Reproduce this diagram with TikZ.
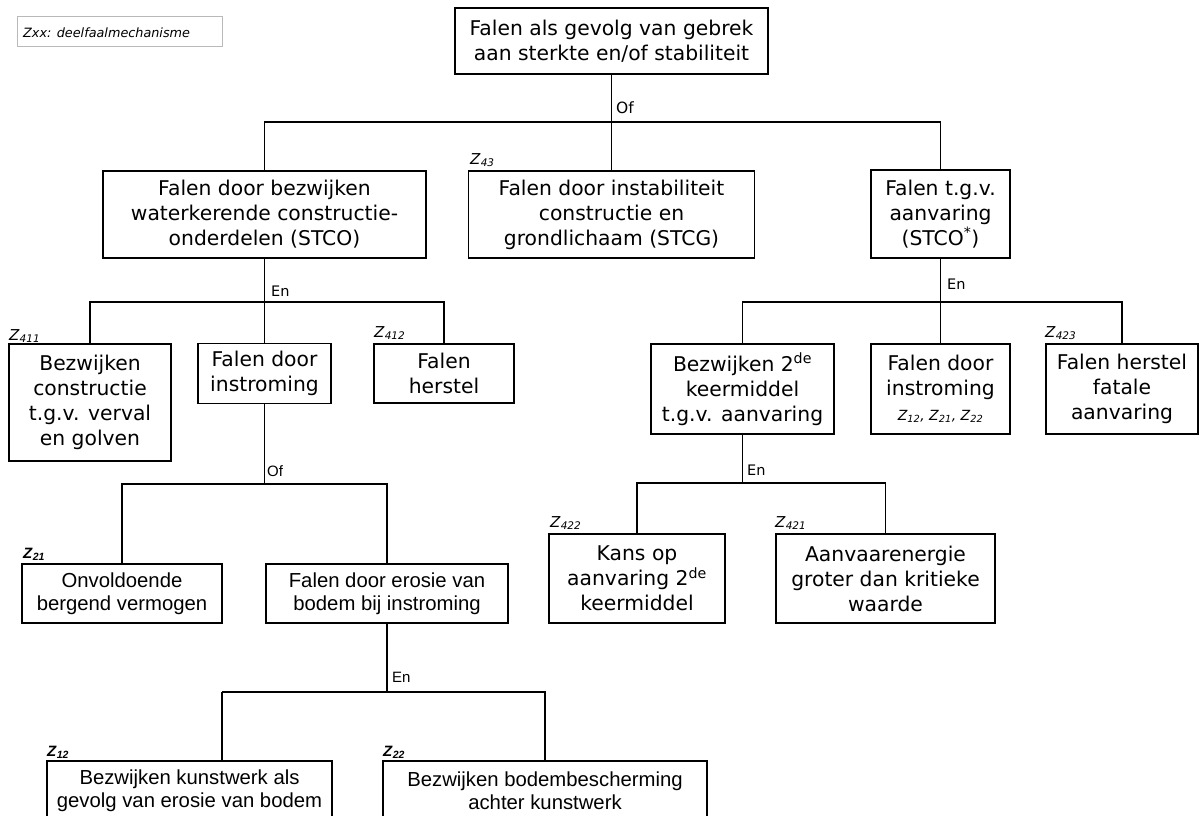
\documentclass[tikz,border=0pt]{standalone}
\usepackage{fontspec}
\setmainfont{DejaVu Sans}
\newfontfamily\arialf{Liberation Sans}
\newcommand{\zlab}[1]{\textit{Z}\textsubscript{\textit{#1}}}
\tikzset{
  box/.style={draw, line width=1.9pt, align=center, inner sep=0pt, font=\fontsize{20.3}{25}\selectfont},
  abox/.style={draw, line width=1.9pt, align=center, inner sep=0pt, font=\arialf\fontsize{20.3}{22.5}\selectfont},
  conn/.style={line width=1.9pt},
  gate/.style={anchor=base west, inner sep=0pt, font=\fontsize{14.5}{16}\selectfont},
  agate/.style={anchor=base west, inner sep=0pt, font=\arialf\fontsize{15}{16}\selectfont},
  zl/.style={anchor=base west, inner sep=0pt, font=\fontsize{15}{17}\selectfont},
  azl/.style={anchor=base west, inner sep=0pt, font=\arialf\bfseries\fontsize{15}{17}\selectfont},
}
\begin{document}
\begin{tikzpicture}[x=1pt,y=-1pt]
\useasboundingbox (0,0) rectangle (1199,816);
\clip (0,0) rectangle (1199,816);
\fill[white] (0,0) rectangle (1199,816);

% legend
\node[draw=gray!55, line width=1pt, minimum width=205pt, minimum height=30pt, inner sep=0pt] (legend) at (119.5,32) {};
\node[anchor=west, inner sep=0pt, font=\itshape\fontsize{12.8}{14}\selectfont] (legtxt) at (23,32.5) {Zxx: deelfaalmechanisme};

% boxes level 0/1
\node[box, minimum width=313pt, minimum height=66pt] (top) at (611.5,41) {Falen als gevolg van gebrek\\aan sterkte en/of stabiliteit};
\node[box, minimum width=323pt, minimum height=87pt] (L1) at (264.5,214.5) {Falen door bezwijken\\waterkerende constructie-\\onderdelen (STCO)};
\node[box, minimum width=286pt, minimum height=87pt] (M1) at (611.5,214.5) {Falen door instabiliteit\\constructie en\\grondlichaam (STCG)};
\node[box, minimum width=139pt, minimum height=88pt] (R1) at (940.5,214) {Falen t.g.v.\\aanvaring\\(STCO\textsuperscript{*})};

% level 2 left
\node[box, minimum width=162pt, minimum height=117pt] (Z411) at (90,402.5) {Bezwijken\\constructie\\t.g.v. verval\\en golven};
\node[box, minimum width=133pt, minimum height=60pt] (FDI) at (264.5,373.5) {Falen door\\instroming};
\node[box, minimum width=140pt, minimum height=59pt] (FH) at (444,373.5) {Falen\\herstel};

% level 2 right
\node[box, minimum width=183pt, minimum height=90pt] (B2) at (742.5,389) {Bezwijken 2\textsuperscript{de}\\keermiddel\\t.g.v. aanvaring};
\node[box, minimum width=139pt, minimum height=90pt] (FDI2) at (940.5,389) {Falen door\\instroming\\{\itshape\fontsize{14}{16}\selectfont Z\textsubscript{12}, Z\textsubscript{21}, Z\textsubscript{22}}};
\node[box, minimum width=152pt, minimum height=90pt] (FHF) at (1122,389) {Falen herstel\\fatale\\aanvaring};

% level 3 right
\node[box, minimum width=176pt, minimum height=89pt] (K422) at (637,578.5) {Kans op\\aanvaring 2\textsuperscript{de}\\keermiddel};
\node[box, minimum width=219pt, minimum height=89pt] (A421) at (885.5,578.5) {Aanvaarenergie\\groter dan kritieke\\waarde};

% level 3 left
\node[abox, minimum width=200pt, minimum height=59pt] (Onv) at (122,593.5) {Onvoldoende\\bergend vermogen};
\node[abox, minimum width=242pt, minimum height=59pt] (Ero) at (387,593.5) {Falen door erosie van\\bodem bij instroming};

% level 4
\node[abox, minimum width=285pt, minimum height=59pt] (B12) at (189.5,790.5) {Bezwijken kunstwerk als\\gevolg van erosie van bodem};
\node[abox, minimum width=324pt, minimum height=59pt] (B22) at (545,790.5) {Bezwijken bodembescherming\\achter kunstwerk};

% junctions
\coordinate (j1) at (611.5,122);
\coordinate (j2) at (264.5,302);
\coordinate (j5) at (940.5,302);
\coordinate (j3) at (264.5,484);
\coordinate (j6) at (742.5,483);
\coordinate (j4) at (387,692);
\coordinate (c12) at (222,692);

% connectors
\draw[conn] (top.south) -- (j1);
\draw[conn] (L1.north) |- (j1);
\draw[conn] (R1.north) |- (j1);
\draw[conn] (j1) -- (M1.north);

\draw[conn] (L1.south) -- (j2) -- (FDI.north);
\draw[conn] (Z411.north) |- (j2);
\draw[conn] (FH.north) |- (j2);

\draw[conn] (R1.south) -- (j5) -- (FDI2.north);
\draw[conn] (B2.north) |- (j5);
\draw[conn] (FHF.north) |- (j5);

\draw[conn] (FDI.south) -- (j3);
\draw[conn] (Onv.north) |- (j3);
\draw[conn] (Ero.north) |- (j3);

\draw[conn] (B2.south) -- (j6);
\draw[conn] (K422.north) |- (j6);
\draw[conn] (A421.north) |- (j6);

\draw[conn] (Ero.south) -- (j4);
\draw[conn] (B22.north) |- (j4);
\draw[conn] (c12) -- (j4);
\draw[conn] (c12) -- (c12 |- B12.north);

% gate labels
\node[gate, font=\fontsize{15.5}{16}\selectfont] (g1) at (616,113) {Of};
\node[gate] (g2) at (271,296) {En};
\node[gate] (g5) at (947,289) {En};
\node[gate] (g6) at (747,475) {En};
\node[agate] (g3) at (267,476) {Of};
\node[agate] (g4) at (392,682) {En};

% Z labels
\node[zl] (z43) at (470,164) {\zlab{43}};
\node[zl] (z411) at (9,340) {\zlab{411}};
\node[zl] (z412) at (374,337) {\zlab{412}};
\node[zl] (z423) at (1045,337) {\zlab{423}};
\node[zl] (z422) at (550,527) {\zlab{422}};
\node[zl] (z421) at (775,527) {\zlab{421}};
\node[azl] (z21) at (23,558) {\zlab{21}};
\node[azl] (z12) at (47,756) {\zlab{12}};
\node[azl] (z22) at (383,756) {\zlab{22}};
\end{tikzpicture}
\end{document}
